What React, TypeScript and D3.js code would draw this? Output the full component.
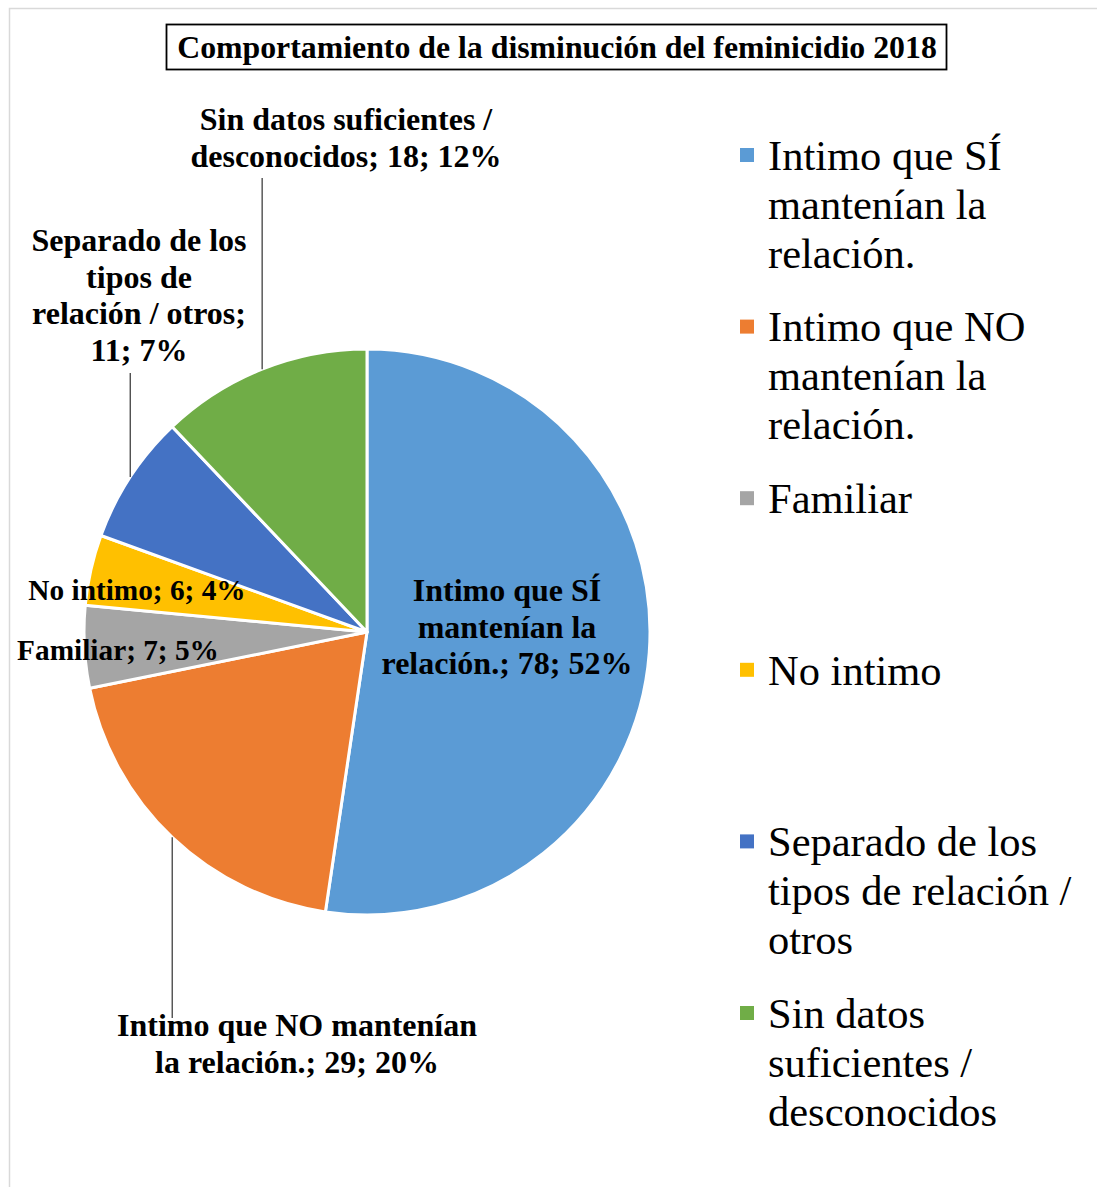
import React from "react";
import * as d3 from "d3";

const categories = [
  "Intimo que SÍ mantenían la relación.",
  "Intimo que NO mantenían la relación.",
  "Familiar",
  "No intimo",
  "Separado de los tipos de relación / otros",
  "Sin datos suficientes / desconocidos",
];
const values = [78, 29, 7, 6, 11, 18];
const percents = ["52%", "20%", "5%", "4%", "7%", "12%"];
const colors = ["#5B9BD5", "#ED7D31", "#A5A5A5", "#FFC000", "#4472C4", "#70AD47"];

const labelLines = [
  ["Intimo que SÍ", "mantenían la", "relación.; 78; 52%"],
  ["Intimo que NO mantenían", "la relación.; 29; 20%"],
  ["Familiar; 7; 5%"],
  ["No intimo; 6; 4%"],
  ["Separado de los", "tipos de", "relación / otros;", "11; 7%"],
  ["Sin datos suficientes /", "desconocidos; 18; 12%"],
];
// label anchor: center x, first line center y, leader line end y (null = none), font size
const labelPos = [
  { x: 507, y: 590, lead: null, fs: 32 },
  { x: 297, y: 1025, lead: 1018, fs: 32 },
  { x: 118, y: 650, lead: null, fs: 29.3 },
  { x: 137, y: 590, lead: null, fs: 29.3 },
  { x: 139, y: 240, lead: 373, fs: 32 },
  { x: 346, y: 119, lead: 178, fs: 32 },
];

const legendLines = [
  ["Intimo que SÍ", "mantenían la", "relación."],
  ["Intimo que NO", "mantenían la", "relación."],
  ["Familiar"],
  ["No intimo"],
  ["Separado de los", "tipos de relación /", "otros"],
  ["Sin datos", "suficientes /", "desconocidos"],
];

const title = "Comportamiento de la disminución del feminicidio 2018";

export default function App() {
  const W = 1097, H = 1187;
  const cx = 367, cy = 632, R = 283;
  const pie = d3.pie<number>().sort(null).value((d) => d).startAngle(0).endAngle(2 * Math.PI);
  const arcs = pie(values);
  const arc = d3.arc<d3.PieArcDatum<number>>().innerRadius(0).outerRadius(R);
  const font = "Liberation Serif";
  const labelLH = 36.5;
  const legLH = 49;
  const legendY = d3.scaleLinear().domain([0, 5]).range([155, 1013]);

  return (
    <svg width={W} height={H} style={{ position: "absolute", left: 0, top: 0, background: "#fff", fontFamily: font }}>
      <rect x={0} y={0} width={W} height={H} fill="#fff" />
      <rect x={9.5} y={8.5} width={W + 20} height={H + 20} fill="none" stroke="#d9d9d9" strokeWidth={1.5} />
      <rect x={166.5} y={24.5} width={780} height={45} fill="#fff" stroke="#000" strokeWidth={1.8} />
      <text x={557} y={47} dy="0.35em" textAnchor="middle" fontWeight="bold" fontSize={31.8}>{title}</text>

      <g transform={`translate(${cx},${cy})`}>
        {arcs.map((a, i) => (
          <path key={i} d={arc(a) || ""} fill={colors[i]} stroke="#fff" strokeWidth={3} strokeLinejoin="round" />
        ))}
      </g>

      {arcs.map((a, i) => {
        const p = labelPos[i];
        if (p.lead == null) return null;
        const mid = (a.startAngle + a.endAngle) / 2;
        const px = cx + R * Math.sin(mid);
        const py = cy - R * Math.cos(mid);
        return <line key={i} x1={px} y1={py} x2={px} y2={p.lead} stroke="#404040" strokeWidth={1.3} />;
      })}

      {labelLines.map((lines, i) => (
        <text key={i} textAnchor="middle" fontWeight="bold" fontSize={labelPos[i].fs} fill="#000">
          {lines.map((l, j) => (
            <tspan key={j} x={labelPos[i].x} y={labelPos[i].y + j * labelLH} dy="0.35em">{l}</tspan>
          ))}
        </text>
      ))}

      {legendLines.map((lines, i) => (
        <g key={i}>
          <rect x={740} y={legendY(i) - 7} width={14} height={14} fill={colors[i]} />
          <text fontSize={42.5} fill="#000">
            {lines.map((l, j) => (
              <tspan key={j} x={768} y={legendY(i) + j * legLH} dy="0.35em">{l}</tspan>
            ))}
          </text>
        </g>
      ))}
    </svg>
  );
}
